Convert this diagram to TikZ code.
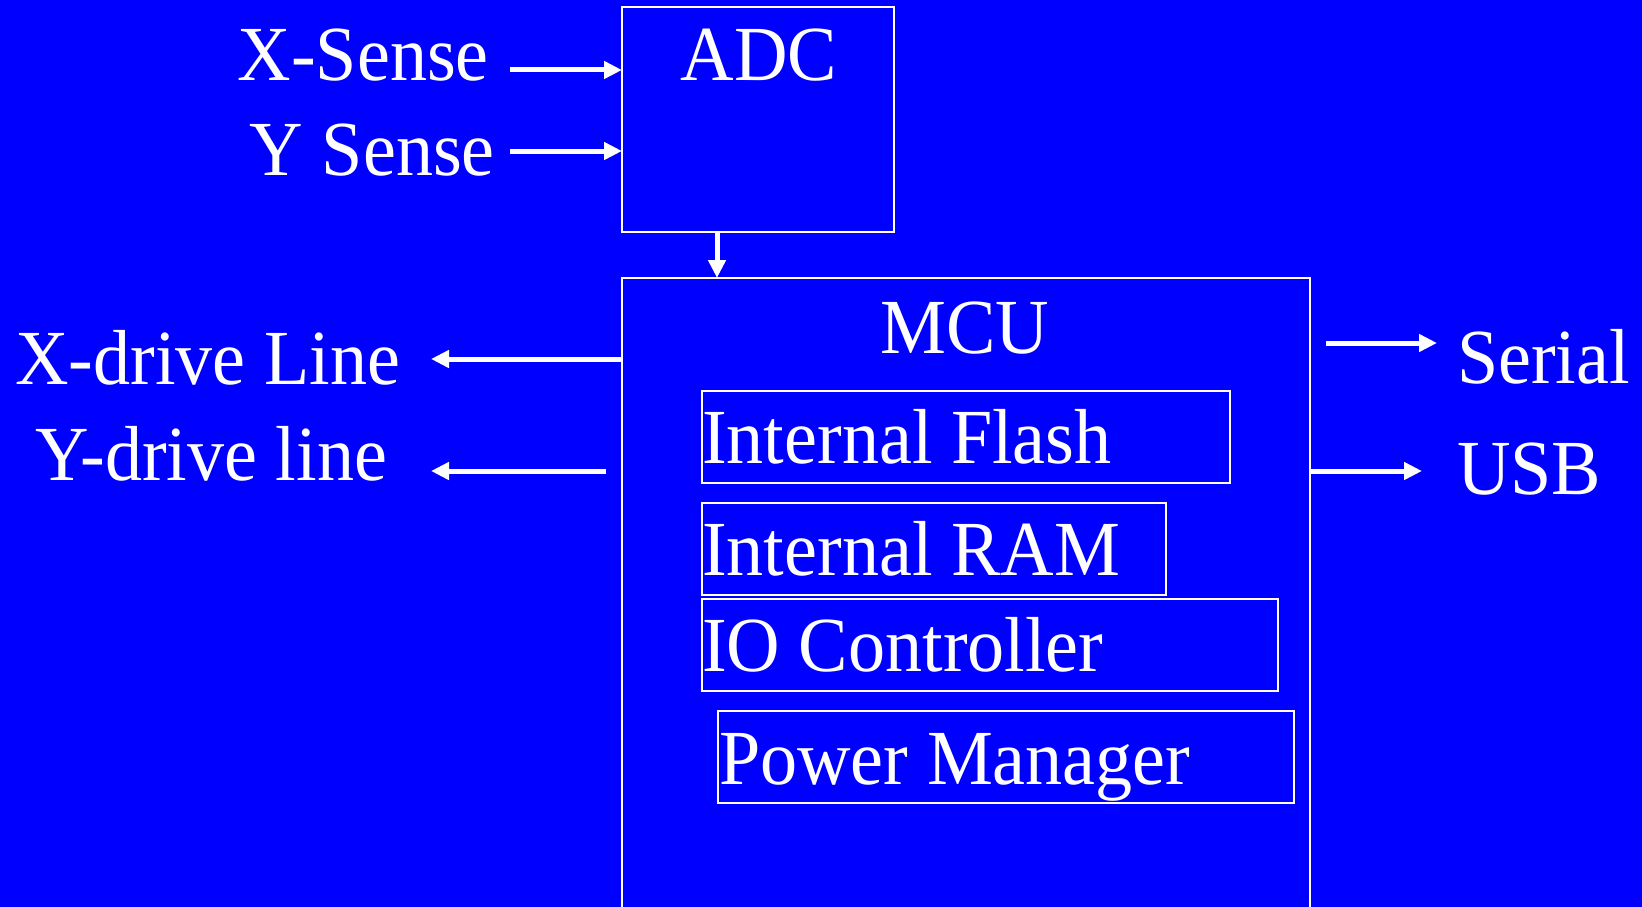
\documentclass[tikz,border=0pt]{standalone}
\usepackage{fontspec}
\setmainfont{Liberation Serif}[FakeStretch=0.95]
\usetikzlibrary{arrows.meta}
\definecolor{slideblue}{RGB}{0,0,255}
\begin{document}
\begin{tikzpicture}[x=1pt, y=-1pt, line join=miter,
	box/.style={draw=white, line width=2pt, rectangle, inner sep=0pt, outer sep=0pt},
	lbl/.style={text=white, inner sep=0pt, font=\fontsize{78}{90}\selectfont},
	arr/.style={draw=white, line width=5pt, -{Triangle[length=18pt,width=17pt]}}]
	\fill[slideblue] (0,0) rectangle (1642,907);
	\clip (0,0) rectangle (1642,907);
	% Bloecke
	\node[box, minimum width=272pt, minimum height=225pt] (adc) at (758,119.5) {};
	\node[box, minimum width=688pt, minimum height=662pt] (mcu) at (966,609) {};
	\node[box, minimum width=528pt, minimum height=92pt] (flash) at (966,437) {};
	\node[box, minimum width=464pt, minimum height=92pt] (ram) at (934,549) {};
	\node[box, minimum width=576pt, minimum height=92pt] (io) at (990,645) {};
	\node[box, minimum width=576pt, minimum height=92pt] (pm) at (1006,757) {};
	% Texte
	\node[lbl, anchor=base] (adctxt) at (759,81) {ADC};
	\node[lbl, anchor=base] (mcutxt) at (965,353) {MCU};
	\node[lbl, anchor=base west] (flashtxt) at (702,463) {Internal Flash};
	\node[lbl, anchor=base west] (ramtxt) at (702,575) {Internal RAM};
	\node[lbl, anchor=base west] (iotxt) at (702,671) {IO Controller};
	\node[lbl, anchor=base west] (pmtxt) at (719,784) {Power Manager};
	\node[lbl, anchor=base east] (xsense) at (489,81) {X-Sense};
	\node[lbl, anchor=base east] (ysense) at (495,175) {Y Sense};
	\node[lbl, anchor=base west] (xdrive) at (15,384) {X-drive Line};
	\node[lbl, anchor=base west] (ydrive) at (35,480) {Y-drive line};
	\node[lbl, anchor=base west] (serial) at (1457,383) {Serial};
	\node[lbl, anchor=base west] (usb) at (1457,494) {USB};
	% Pfeile
	\coordinate (xs) at (510,70);
	\coordinate (ys) at (510,151);
	\coordinate (tap) at (717,0);
	\coordinate (xd) at (431,359);
	\coordinate (yds) at (606,471);
	\coordinate (yd) at (431,471);
	\coordinate (ses) at (1326,343);
	\coordinate (se) at (1437,343);
	\coordinate (ub) at (1422,471);
	\draw[arr] (xs) -- (xs -| adc.west);
	\draw[arr] (ys) -- (ys -| adc.west);
	\draw[arr] (tap |- adc.south) -- (tap |- mcu.north);
	\draw[arr] (xd -| mcu.west) -- (xd);
	\draw[arr] (yds) -- (yd);
	\draw[arr] (ses) -- (se);
	\draw[arr] (ub -| mcu.east) -- (ub);
\end{tikzpicture}
\end{document}
